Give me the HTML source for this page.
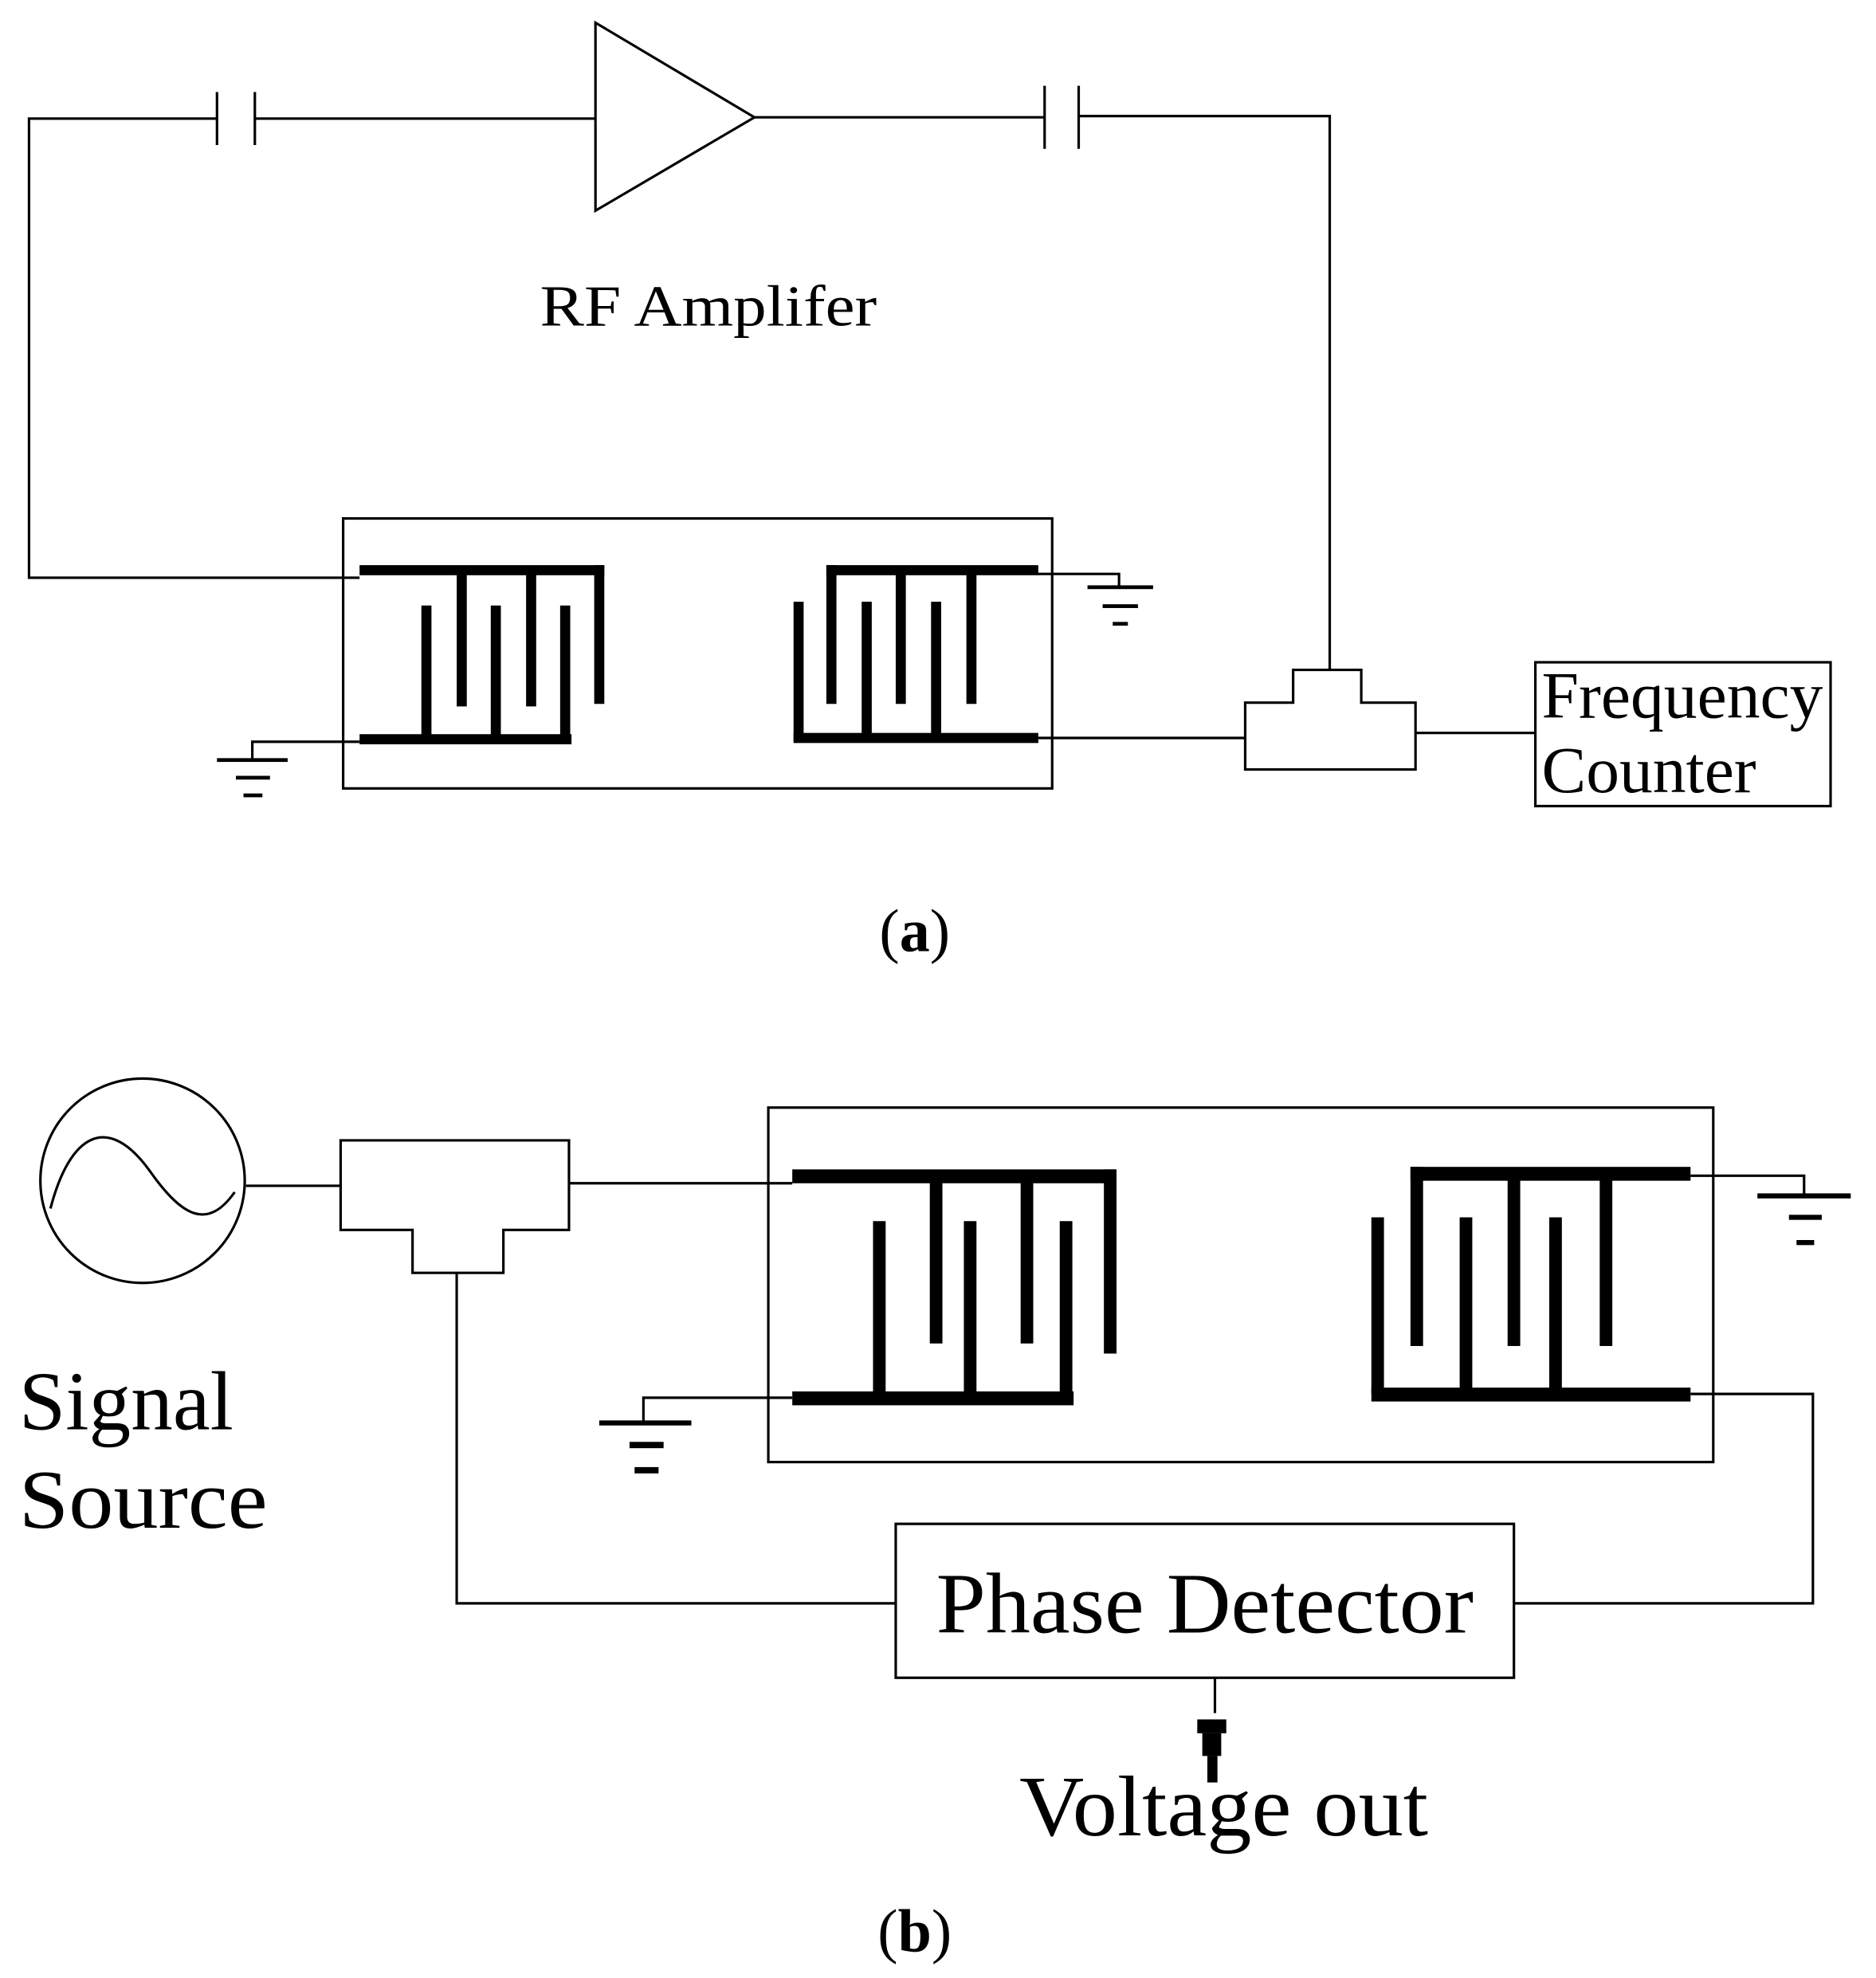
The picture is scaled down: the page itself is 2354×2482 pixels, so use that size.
<!DOCTYPE html>
<html><head><meta charset="utf-8"><style>html,body{margin:0;padding:0;background:#fff}svg{display:block}</style></head>
<body>
<svg width="2354" height="2482" viewBox="0 0 1487 1568" preserveAspectRatio="none" xmlns="http://www.w3.org/2000/svg" font-family="'Liberation Serif', serif">
<g fill="none" stroke="#000" stroke-width="2">
<polyline points="285,458 23,458 23,94 172,94"/>
<line x1="172" y1="73" x2="172" y2="115"/>
<line x1="202" y1="73" x2="202" y2="115"/>
<line x1="202" y1="94" x2="472" y2="94"/>
<polygon points="472,18 472,167 598,93"/>
<line x1="598" y1="93" x2="828" y2="93"/>
<line x1="828" y1="68" x2="828" y2="118"/>
<line x1="855" y1="68" x2="855" y2="118"/>
<polyline points="855,92 1054,92 1054,531"/>
<rect x="272" y="411" width="562" height="214"/>
<polyline points="822,455 887,455 887,465"/>
<polyline points="285,588 200,588 200,602"/>
<line x1="822" y1="585" x2="987" y2="585"/>
<path d="M987,557 L1025,557 L1025,531 L1079,531 L1079,557 L1122,557 L1122,610 L987,610 Z"/>
<line x1="1122" y1="581" x2="1217" y2="581"/>
<rect x="1217" y="525" width="234" height="114"/>
<circle cx="113" cy="936" r="81"/>
<path d="M40,958 C55,900 85,880 120,930 C145,965 165,975 186,945"/>
<line x1="195" y1="940" x2="270" y2="940"/>
<path d="M270,904 L451,904 L451,975 L399,975 L399,1009 L327,1009 L327,975 L270,975 Z"/>
<line x1="451" y1="938" x2="628" y2="938"/>
<rect x="609" y="878" width="749" height="281"/>
<polyline points="1340,932 1430,932 1430,948"/>
<polyline points="628,1108 510,1108 510,1128"/>
<polyline points="1340,1105 1437,1105 1437,1271 1200,1271"/>
<polyline points="362,1009 362,1271 710,1271"/>
<rect x="710" y="1208" width="490" height="122"/>
<line x1="963" y1="1330" x2="963" y2="1358"/>
</g>
<g fill="#000">
<rect x="285" y="448" width="194" height="8"/>
<rect x="362" y="452" width="8" height="108"/>
<rect x="417" y="452" width="8" height="108"/>
<rect x="471" y="448" width="8" height="110"/>
<rect x="285" y="582" width="168" height="8"/>
<rect x="334" y="480" width="8" height="108"/>
<rect x="389" y="480" width="8" height="108"/>
<rect x="444" y="480" width="8" height="108"/>
<rect x="655" y="448" width="168" height="8"/>
<rect x="655" y="448" width="8" height="110"/>
<rect x="710" y="452" width="8" height="106"/>
<rect x="766" y="452" width="8" height="106"/>
<rect x="629" y="581" width="194" height="8"/>
<rect x="629" y="477" width="8" height="110"/>
<rect x="683" y="477" width="8" height="110"/>
<rect x="738" y="477" width="8" height="110"/>
<rect x="862" y="464" width="52" height="3"/>
<rect x="874" y="479" width="28" height="3"/>
<rect x="882" y="493" width="12" height="3"/>
<rect x="172" y="601" width="56" height="3"/>
<rect x="187" y="615" width="27" height="3"/>
<rect x="193" y="629" width="15" height="3"/>
<rect x="628" y="927" width="257" height="11"/>
<rect x="737" y="932" width="10" height="133"/>
<rect x="809" y="932" width="10" height="133"/>
<rect x="875" y="927" width="10" height="146"/>
<rect x="628" y="1103" width="223" height="11"/>
<rect x="692" y="968" width="10" height="140"/>
<rect x="764" y="968" width="10" height="140"/>
<rect x="840" y="968" width="10" height="140"/>
<rect x="1118" y="925" width="222" height="11"/>
<rect x="1118" y="925" width="10" height="142"/>
<rect x="1195" y="930" width="10" height="137"/>
<rect x="1268" y="930" width="10" height="137"/>
<rect x="1087" y="1100" width="253" height="11"/>
<rect x="1087" y="965" width="10" height="140"/>
<rect x="1157" y="965" width="10" height="140"/>
<rect x="1228" y="965" width="10" height="140"/>
<rect x="1393" y="946" width="74" height="4"/>
<rect x="1418" y="963" width="26" height="4"/>
<rect x="1424" y="983" width="14" height="4"/>
<rect x="475" y="1126" width="73" height="4"/>
<rect x="499" y="1143" width="27" height="5"/>
<rect x="503" y="1163" width="19" height="5"/>
<rect x="949" y="1363" width="23" height="11"/>
<rect x="953" y="1374" width="15" height="18"/>
<rect x="957" y="1392" width="8" height="21"/>
</g>
<g fill="#000">
<text x="428" y="258" font-size="46" textLength="267" lengthAdjust="spacingAndGlyphs">RF Amplifer</text>
<text x="1222" y="569" font-size="52" textLength="223" lengthAdjust="spacingAndGlyphs">Frequency</text>
<text x="1222" y="628" font-size="52" textLength="170" lengthAdjust="spacingAndGlyphs">Counter</text>
<text x="725" y="754" font-size="48" text-anchor="middle">(<tspan font-weight="bold">a</tspan>)</text>
<text x="15" y="1133" font-size="66" textLength="170" lengthAdjust="spacingAndGlyphs">Signal</text>
<text x="15" y="1211" font-size="66" textLength="197" lengthAdjust="spacingAndGlyphs">Source</text>
<text x="742" y="1294" font-size="68" textLength="426" lengthAdjust="spacingAndGlyphs">Phase Detector</text>
<text x="808" y="1455" font-size="68" textLength="324" lengthAdjust="spacingAndGlyphs">Voltage out</text>
<text x="725" y="1547" font-size="48" text-anchor="middle">(<tspan font-weight="bold">b</tspan>)</text>
</g>
</svg>
</body></html>
